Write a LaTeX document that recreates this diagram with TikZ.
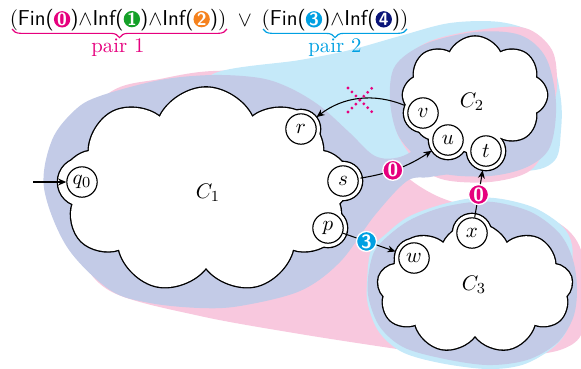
\documentclass[tikz,border=0pt]{standalone}
\usetikzlibrary{shapes.symbols,arrows.meta,decorations.pathreplacing}
\definecolor{pmag}{RGB}{230,0,126}
\definecolor{pgreen}{RGB}{20,160,40}
\definecolor{porange}{RGB}{245,130,30}
\definecolor{pcyan}{RGB}{0,160,226}
\definecolor{pnavy}{RGB}{10,20,120}
\definecolor{rpink}{RGB}{248,200,222}
\definecolor{rcyan}{RGB}{197,233,249}
\definecolor{rlav}{RGB}{195,203,231}
\tikzset{
  fbadge/.style={circle,inner sep=0pt,minimum size=8.5pt,text=white,font=\sffamily\bfseries\fontsize{9.2}{9}\selectfont},
  ebadge/.style={circle,inner sep=0pt,minimum size=10.4pt,text=white,draw=white,line width=0.7pt,font=\sffamily\bfseries\fontsize{10}{10}\selectfont},
}
\newcommand\bdg[2]{\tikz[baseline=(bd.base)]\node[fbadge,fill=#1](bd){#2};}
\begin{document}
\begin{tikzpicture}[x=0.52pt,y=-0.52pt,
  st/.style={circle,draw,fill=white,line width=0.6pt,minimum size=15.8pt,inner sep=0pt,font=\fontsize{11}{13}\selectfont},
  cl/.style={cloud,cloud puff arc=130,cloud ignores aspect,inner sep=0pt},
  arr/.style={-{Stealth[length=4.2pt,width=3.6pt]},line width=0.55pt},
  brc/.style={decorate,decoration={brace,mirror,amplitude=4.5pt},line width=0.6pt},
  rg/.style={smooth cycle,tension=0.55}]
\useasboundingbox (0,0) rectangle (581,368);
% background regions
\fill[rpink] plot[rg] coordinates {(52,190) (64,138) (112,91) (160,79) (213,71) (290,74) (345,105) (385,150) (407,177) (437,196) (470,206) (520,211) (560,224) (581,250) (585,300) (581,335) (560,350) (520,356) (470,358) (420,352) (397,349) (300,334) (200,316) (112,292) (77,252)};
\fill[rcyan] plot[rg] coordinates {(205,110) (213,74) (300,60) (350,50) (400,36) (450,23) (500,22) (535,34) (553,62) (561,100) (561,130) (555,160) (525,171) (440,166) (380,160) (345,135) (300,112)};
\fill[rpink] plot[rg] coordinates {(392,100) (398,66) (428,42) (478,30) (525,28) (552,50) (557,85) (552,112) (545,148) (528,172) (490,182) (445,180) (420,166) (398,135)};
\fill[rcyan] plot[rg] coordinates {(367,282) (371,250) (386,234) (408,217) (440,205) (473,198) (502,199) (535,208) (562,226) (572,245) (572,275) (573,305) (566,332) (550,350) (522,365) (487,369) (440,363) (402,352) (379,332) (368,305)};
\fill[rlav] plot[rg] coordinates {(44,188) (52,140) (75,110) (100,96) (160,80) (213,75) (260,78) (290,88) (320,106) (350,133) (375,156) (400,157) (432,142) (455,150) (460,170) (430,177) (407,181) (375,215) (340,262) (300,291) (240,306) (200,308) (150,303) (110,290) (67,247)};
\fill[rlav] plot[rg] coordinates {(390,100) (395,66) (425,44) (475,32) (520,35) (546,58) (556,103) (550,147) (527,167) (490,176) (445,174) (420,160) (398,135)};
\fill[rlav] plot[rg] coordinates {(368,278) (374,252) (388,236) (410,220) (440,208) (473,202) (500,203) (533,213) (560,234) (573,260) (577,290) (573,318) (557,343) (527,360) (487,365) (440,358) (403,347) (380,327) (369,300)};
% state positions
\coordinate (pq0) at (82,182);
\coordinate (pr) at (301,129);
\coordinate (ps) at (343,181);
\coordinate (pp) at (328,228);
\coordinate (pv) at (423,113);
\coordinate (pu) at (448,140);
\coordinate (pt) at (486,151);
\coordinate (pw) at (414,258);
\coordinate (px) at (472,233);
% cloud outlines (union)
\begin{scope}[line width=1.4pt]
\node[cl,draw,cloud puffs=9,minimum width=149.8pt,minimum height=106.6pt] (c1) at (206,190) {};
\node[cl,draw,cloud puffs=8,minimum width=74.9pt,minimum height=60.8pt] (c2) at (475,95) {};
\node[cl,draw,cloud puffs=9,minimum width=101.4pt,minimum height=67.6pt] (c3) at (475,288) {};
\draw (pq0) circle[radius=24];
\foreach \q in {pr,ps,pp,pv,pu,pt,pw,px} \draw (\q) circle[radius=19];
\end{scope}
\node[cl,fill=white,cloud puffs=9,minimum width=149.8pt,minimum height=106.6pt] (c1w) at (c1) {};
\node[cl,fill=white,cloud puffs=8,minimum width=74.9pt,minimum height=60.8pt] (c2w) at (c2) {};
\node[cl,fill=white,cloud puffs=9,minimum width=101.4pt,minimum height=67.6pt] (c3w) at (c3) {};
\fill[white] (pq0) circle[radius=24];
\foreach \q in {pr,ps,pp,pv,pu,pt,pw,px} \fill[white] (\q) circle[radius=19];
% labels
\node[font=\fontsize{11}{13}\selectfont] (l1) at (208,193) {$C_1$};
\node[font=\fontsize{11}{13}\selectfont] (l2) at (472,102) {$C_2$};
\node[font=\fontsize{11}{13}\selectfont] (l3) at (474,285) {$C_3$};
% states
\node[st] (q0) at (pq0) {$q_0$};
\node[st] (r) at (pr) {$r$};
\node[st] (s) at (ps) {$s$};
\node[st] (p) at (pp) {$p$};
\node[st] (v) at (pv) {$v$};
\node[st] (u) at (pu) {$u$};
\node[st] (t) at (pt) {$t$};
\node[st] (w) at (pw) {$w$};
\node[st] (x) at (px) {$x$};
% edges
\coordinate (init) at (33,182);
\draw[arr] (init) -- (q0);
\draw[arr,shorten <=2pt,shorten >=2pt] (v) to[bend right=30] (r);
\draw[arr,shorten <=1pt,shorten >=2pt] (s) to[bend right=12] node[ebadge,fill=pmag,pos=0.42] (b1) {0} (u);
\draw[arr,shorten >=2pt] (x) -- node[ebadge,fill=pmag,pos=0.45] (b2) {0} (t);
\draw[arr,shorten >=2pt] (p) -- node[ebadge,fill=pcyan,pos=0.42] (b3) {3} (w);
% cross
\coordinate (xa) at (348,88);
\coordinate (xb) at (372,112);
\coordinate (xc) at (348,112);
\coordinate (xd) at (372,88);
\draw[pmag,line width=1.6pt,line cap=round,dash pattern=on 0pt off 2.9pt] (xa) -- (xb);
\draw[pmag,line width=1.6pt,line cap=round,dash pattern=on 0pt off 2.9pt] (xc) -- (xd);
% formula
\node[inner sep=0pt,font=\fontsize{11.2}{13}\selectfont] (g1) at (118,20) {$\big($\textsf{Fin(}\bdg{pmag}{0}\textsf{)}$\wedge$\textsf{Inf(}\bdg{pgreen}{1}\textsf{)}$\wedge$\textsf{Inf(}\bdg{porange}{2}\textsf{)}$\big)$};
\node[inner sep=0pt,font=\fontsize{11.2}{13}\selectfont] (vee) at (245,21) {$\vee$};
\node[inner sep=0pt,font=\fontsize{11.2}{13}\selectfont] (g2) at (335,20) {$\big($\textsf{Fin(}\bdg{pcyan}{3}\textsf{)}$\wedge$\textsf{Inf(}\bdg{pnavy}{4}\textsf{)}$\big)$};
\coordinate (b1l) at (12,29);
\coordinate (b1r) at (227,29);
\coordinate (b2l) at (263,29);
\coordinate (b2r) at (407,29);
\draw[brc,pmag] (b1l) -- (b1r);
\draw[brc,pcyan] (b2l) -- (b2r);
\node[text=pmag,font=\fontsize{10.8}{13}\selectfont] (pair1) at (118,48) {pair 1};
\node[text=pcyan,font=\fontsize{10.8}{13}\selectfont] (pair2) at (335,48) {pair 2};
\end{tikzpicture}
\end{document}
